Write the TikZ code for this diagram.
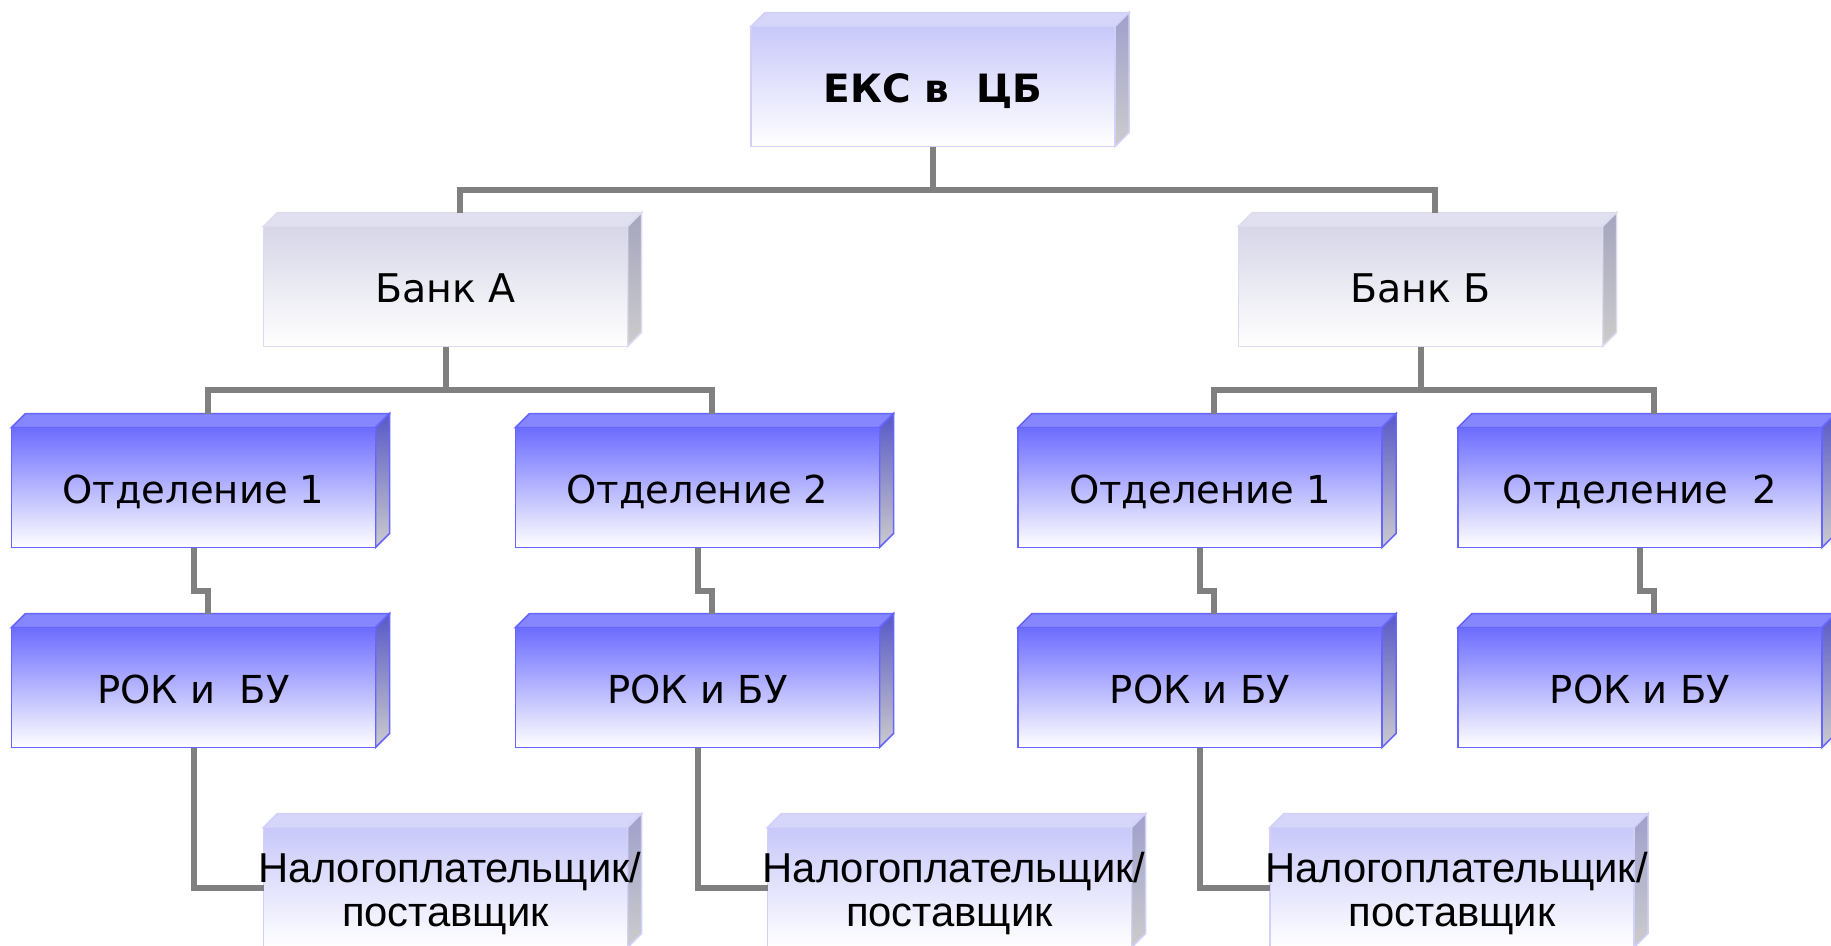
\documentclass[tikz,border=0pt]{standalone}
\usepackage{fontspec}
\setmainfont{DejaVu Sans}
\newfontfamily\arialfont{Liberation Sans}
\usetikzlibrary{positioning,backgrounds}

\definecolor{linegray}{RGB}{128,128,128}
\definecolor{bluetop}{RGB}{108,108,255}
\definecolor{blueedge}{RGB}{102,102,255}
\definecolor{blueroof}{RGB}{134,134,255}
\definecolor{bluesidetop}{RGB}{88,88,200}
\definecolor{banktop}{RGB}{214,214,232}
\definecolor{bankedge}{RGB}{220,220,238}
\definecolor{bankroof}{RGB}{224,224,240}
\definecolor{banksidetop}{RGB}{165,165,190}
\definecolor{lilactop}{RGB}{200,200,250}
\definecolor{lilacedge}{RGB}{208,208,248}
\definecolor{lilacroof}{RGB}{214,214,250}
\definecolor{lilacsidetop}{RGB}{160,160,204}
\definecolor{sidebottom}{RGB}{204,204,204}

\tikzset{
  box/.style={rectangle, line width=1.5pt, minimum width=364pt, minimum height=120pt,
    inner sep=0pt, outer sep=0pt, text height=31pt, text depth=0pt,
    font=\fontsize{38.5}{44}\selectfont},
  bluebox/.style={box, draw=blueedge, top color=bluetop, bottom color=white},
  bankbox/.style={box, draw=bankedge, top color=banktop, bottom color=white,
    font=\fontsize{39.5}{44}\selectfont},
  lilacbox/.style={box, draw=lilacedge, top color=lilactop, bottom color=white},
  payerbox/.style={lilacbox, align=center, text height=78pt, text depth=0pt,
    font=\arialfont\fontsize{41.8}{44.4}\selectfont},
  roofblue/.style={fill=blueroof, draw=blueedge, line width=1.5pt},
  sideblue/.style={top color=bluesidetop, bottom color=sidebottom, draw=blueedge, line width=1.5pt},
  roofbank/.style={fill=bankroof, draw=bankedge, line width=1.5pt},
  sidebank/.style={top color=banksidetop, bottom color=sidebottom, draw=bankedge, line width=1.5pt},
  rooflilac/.style={fill=lilacroof, draw=lilacedge, line width=1.5pt},
  sidelilac/.style={top color=lilacsidetop, bottom color=sidebottom, draw=lilacedge, line width=1.5pt},
  conn/.style={draw=linegray, line width=6pt}
}

\begin{document}
\begin{tikzpicture}[x=1pt,y=-1pt]
  \useasboundingbox (0,0) rectangle (1831,945);
  \node[lilacbox, font=\fontsize{39}{44}\selectfont\bfseries] (EKS) at (933,86.5) {ЕКС в~~ЦБ};
  \node[bankbox, below=80pt of EKS, xshift=-487.5pt] (BankA) {Банк А};
  \node[bankbox, below=80pt of EKS, xshift=487.5pt] (BankB) {Банк Б};
  \node[bluebox, below=81pt of BankA, xshift=-252pt] (OA1) {Отделение 1};
  \node[bluebox, right=140pt of OA1] (OA2) {Отделение 2};
  \node[bluebox, below=81pt of BankB, xshift=-220.5pt] (OB1) {Отделение 1};
  \node[bluebox, right=76pt of OB1] (OB2) {Отделение~~2};
  \node[bluebox, below=80pt of OA1] (RA1) {РОК и~~БУ};
  \node[bluebox, below=80pt of OA2] (RA2) {РОК и БУ};
  \node[bluebox, below=80pt of OB1] (RB1) {РОК и БУ};
  \node[bluebox, below=80pt of OB2] (RB2) {РОК и БУ};
  \node[payerbox, below=80pt of RA1, xshift=252pt] (NA) {\makebox[0pt]{\hspace{9pt}Налогоплательщик/}\\поставщик};
  \node[payerbox, below=80pt of RA2, xshift=252pt] (NB) {\makebox[0pt]{\hspace{9pt}Налогоплательщик/}\\поставщик};
  \node[payerbox, below=80pt of RB1, xshift=252pt] (NC) {\makebox[0pt]{\hspace{9pt}Налогоплательщик/}\\поставщик};

  \begin{scope}[on background layer]
    \foreach \n/\k in {EKS/lilac,BankA/bank,BankB/bank,OA1/blue,OA2/blue,OB1/blue,OB2/blue,
                       RA1/blue,RA2/blue,RB1/blue,RB2/blue,NA/lilac,NB/lilac,NC/lilac}{
      \path[roof\k] (\n.north west) -- ++(14pt,14pt) -- ([shift={(14pt,14pt)}]\n.north east) -- (\n.north east) -- cycle;
      \path[side\k] (\n.north east) -- ++(14pt,14pt) -- ([shift={(14pt,14pt)}]\n.south east) -- (\n.south east) -- cycle;
    }
  \end{scope}

  \foreach \a/\b in {EKS/BankA,EKS/BankB,BankA/OA1,BankA/OA2,BankB/OB1,BankB/OB2,
                     OA1/RA1,OA2/RA2,OB1/RB1,OB2/RB2}
    \draw[conn] (\a.south) -- ++(0pt,-43pt) -| ([shift={(14pt,14pt)}]\b.north);
  \draw[conn] (RA1.south) |- (NA.west);
  \draw[conn] (RA2.south) |- (NB.west);
  \draw[conn] (RB1.south) |- (NC.west);
\end{tikzpicture}
\end{document}
